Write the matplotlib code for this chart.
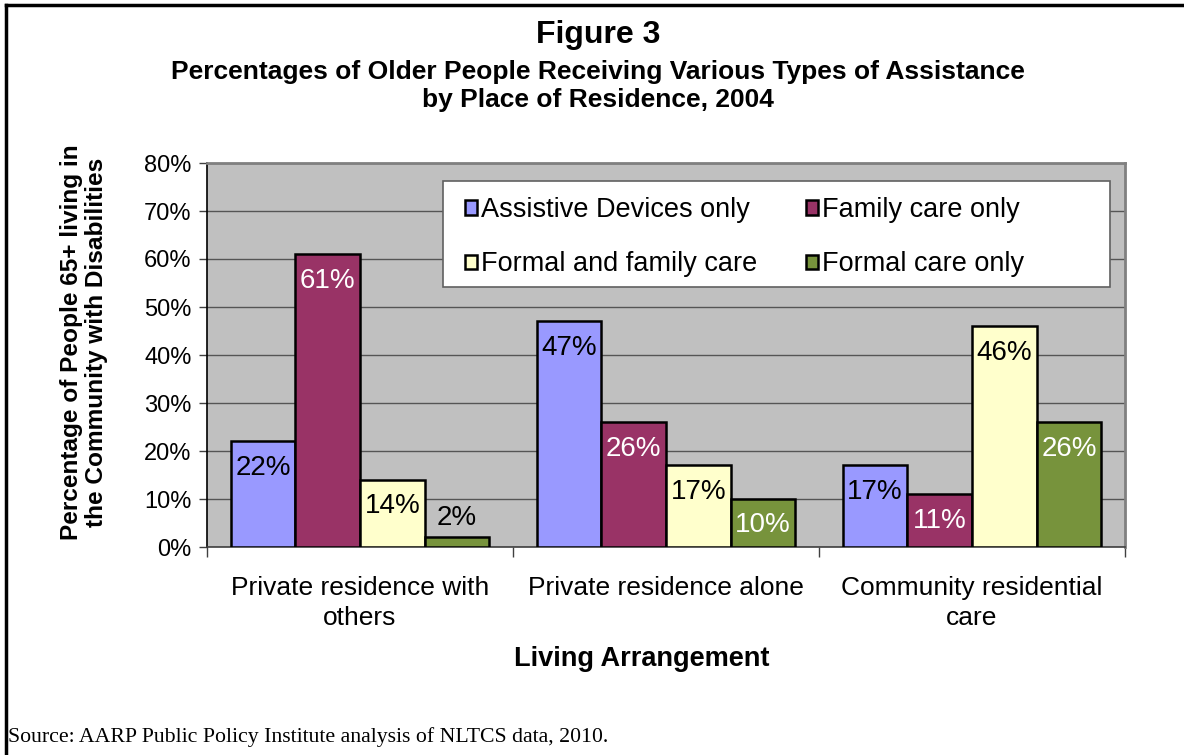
import matplotlib
matplotlib.use("Agg")
import matplotlib.pyplot as plt
import numpy as np
from matplotlib.lines import Line2D
from matplotlib.patches import Rectangle

plt.rcParams['font.family'] = ['Liberation Sans', 'DejaVu Sans']

categories = ["Private residence with\nothers", "Private residence alone", "Community residential\ncare"]
series_names = ["Assistive Devices only", "Family care only", "Formal and family care", "Formal care only"]
assistive = [22, 47, 17]
family = [61, 26, 11]
formal_family = [14, 17, 46]
formal_only = [2, 10, 26]
yticks = [0, 10, 20, 30, 40, 50, 60, 70, 80]
ytick_labels = ["0%", "10%", "20%", "30%", "40%", "50%", "60%", "70%", "80%"]

values = [assistive, family, formal_family, formal_only]
colors = ["#9999FF", "#993366", "#FFFFCC", "#77933C"]
label_colors = ["black", "white", "black", "white"]

W, H = 1184, 755
fig = plt.figure(figsize=(W / 100, H / 100), dpi=100)
fig.patch.set_facecolor("white")

# page frame along the top and left edges
fig.add_artist(Line2D([6 / W, 6 / W], [0, 1 - 5 / H], transform=fig.transFigure, color="black", lw=2.5))
fig.add_artist(Line2D([6 / W, 1], [1 - 5 / H, 1 - 5 / H], transform=fig.transFigure, color="black", lw=2.5))

AX_L, AX_R, AX_T, AX_B = 207, 1125, 163, 547
ax = fig.add_axes([AX_L / W, 1 - AX_B / H, (AX_R - AX_L) / W, (AX_B - AX_T) / H])
ax.set_facecolor("#C0C0C0")
ax.set_axisbelow(True)


def ax_x(px):
    return (px - AX_L) / (AX_R - AX_L)


def ax_y(py):
    return (AX_B - py) / (AX_B - AX_T)


x = np.arange(len(categories))
bw = 0.2115
offsets = (np.arange(4) - 1.5) * bw
px_per_unit = (AX_B - AX_T) / 80.0

containers = []
for i, (vals, col) in enumerate(zip(values, colors)):
    bars = ax.bar(x + offsets[i], vals, width=bw, color=col, edgecolor="black",
                  linewidth=1.8, label=series_names[i], zorder=3)
    containers.append(bars)
    for xi, v in zip(x + offsets[i], vals):
        if v * px_per_unit < 40:
            # too short to hold its label: put it just above the bar
            ax.annotate(f"{v}%", (xi, v), xytext=(0, 14), textcoords="offset points",
                        ha="center", va="center", fontsize=20, color="black", zorder=4)
        else:
            ax.annotate(f"{v}%", (xi, v), xytext=(0, -19), textcoords="offset points",
                        ha="center", va="center", fontsize=20, color=label_colors[i], zorder=4)

ax.set_ylim(0, 80)
ax.set_xlim(-0.5, len(categories) - 0.5)
ax.set_yticks(yticks)
ax.set_yticklabels(ytick_labels, fontsize=17)
ax.yaxis.grid(True, color="#555555", linewidth=1.0, zorder=0)
ax.tick_params(axis="y", direction="out", length=6, width=1, color="#404040", pad=5)

ax.set_xticks(x)
ax.set_xticklabels(categories, fontsize=19, linespacing=1.3)
ax.tick_params(axis="x", length=0, pad=21)
ax.set_xticks(np.arange(-0.5, len(categories)), minor=True)
ax.tick_params(axis="x", which="minor", direction="out", length=7, width=1, color="#404040")

for side in ["top", "right"]:
    ax.spines[side].set_color("#808080")
    ax.spines[side].set_linewidth(2)
ax.spines["left"].set_color("black")
ax.spines["left"].set_linewidth(1.2)
ax.spines["bottom"].set_color("#404040")
ax.spines["bottom"].set_linewidth(1.2)

ax.set_xlabel("Living Arrangement", fontsize=19.5, fontweight="bold", va="center")
ax.xaxis.set_label_coords(ax_x(642), ax_y(659))

fig.text(84 / W, 1 - 342 / H, "Percentage of People 65+ living in\nthe Community with Disabilities",
         rotation=90, ha="center", va="center", fontsize=17.6, fontweight="bold", linespacing=1.08)

# legend box with fixed size, entries laid out inside it
ax.add_patch(Rectangle((ax_x(443), ax_y(287)), ax_x(1110) - ax_x(443), ax_y(181) - ax_y(287),
                       transform=ax.transAxes, facecolor="white", edgecolor="#606060",
                       linewidth=1.2, zorder=5))
handles = [containers[0], containers[2], containers[1], containers[3]]
leg = ax.legend(handles=handles, labels=[series_names[0], series_names[2], series_names[1], series_names[3]],
                ncol=2, loc="upper left", bbox_to_anchor=(ax_x(465), ax_y(197)),
                fontsize=19.5, frameon=False, handlelength=0.45, handleheight=0.45,
                handletextpad=0.15, labelspacing=1.05, borderpad=0, columnspacing=1.8,
                borderaxespad=0)
leg.set_zorder(6)

fig.text(598 / W, 1 - 35 / H, "Figure 3", ha="center", va="center", fontsize=23, fontweight="bold")
fig.text(598 / W, 1 - 86 / H,
         "Percentages of Older People Receiving Various Types of Assistance\nby Place of Residence, 2004",
         ha="center", va="center", fontsize=19, fontweight="bold", linespacing=1.25)

fig.text(8 / W, 1 - 737 / H, "Source: AARP Public Policy Institute analysis of NLTCS data, 2010.",
         ha="left", va="center", fontsize=15.7, family=["Liberation Serif", "DejaVu Serif"])

fig.savefig("out.png", dpi=100, facecolor="white")
